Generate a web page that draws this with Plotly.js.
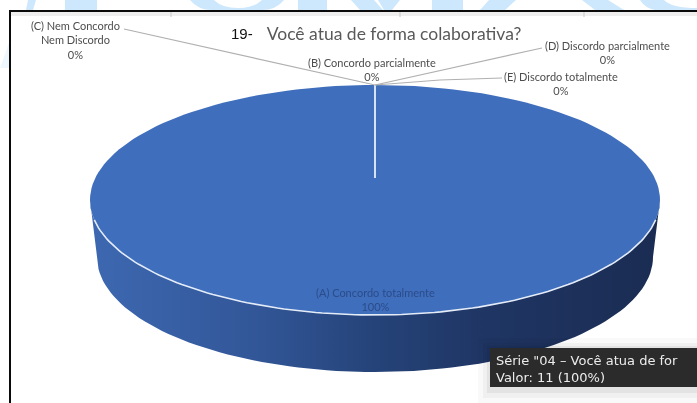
<!DOCTYPE html>
<html><head><meta charset="utf-8">
<script src="https://cdn.plot.ly/plotly-3.0.1.min.js"></script>
<style>html,body{margin:0;padding:0;background:#fff;overflow:hidden}#chart{width:697px;height:403px;filter:blur(0.55px)}</style>
</head><body><div id="chart"></div>
<script>
const categories = ["(A) Concordo totalmente","(B) Concordo parcialmente","(C) Nem Concordo<br>Nem Discordo","(D) Discordo parcialmente","(E) Discordo totalmente"];
const values = [11,0,0,0,0];
const chartTitle = "Você atua de forma colaborativa?";
const questionNumber = "19-";
const tooltipLines = ['Série "04 – Você atua de for','Valor: 11 (100%)'];

// Pie geometry, in picture pixels
const TOP = {cx:375, cy:200, rx:285, ry:115};
const BASE = {cx:375, cy:257, rx:278, ry:115};
const HUB = {x:375, y:178};
const labelPos = [[375,299],[372,69.5],[75,39.5],[607,52],[561,83]];
const leaders = [null,null,[[124,29],[375,85]],[[542,48],[375,85]],[[502,78],[440,80],[375,85]]];

const total = values.reduce((a,b)=>a+b,0);
function arc(e,a0,a1,n){const xs=[],ys=[];for(let i=0;i<=n;i++){const a=(a0+(a1-a0)*i/n)*Math.PI/180;xs.push(e.cx+e.rx*Math.sin(a));ys.push(e.cy-e.ry*Math.cos(a));}return [xs,ys];}

const traces=[];
// Side wall (front half)
const t=arc(TOP,90,270,90), b=arc(BASE,270,90,90);
traces.push({type:'scatter',mode:'lines',x:t[0].concat(b[0]),y:t[1].concat(b[1]),fill:'toself',line:{width:0},hoverinfo:'skip',
  fillcolor:'#2a4a84',
  fillgradient:{type:'horizontal',start:90,stop:660,colorscale:[[0,'#3d68b1'],[0.27,'#33589a'],[0.5,'#254379'],[0.7,'#1f3563'],[1,'#1a2c52']]}});
// Top face: one filled sector per value
let acc=0;
values.forEach((v,i)=>{
  if(v<=0) return;
  const a0=acc/total*360, a1=(acc+v)/total*360; acc+=v;
  const o=arc(TOP,a0,a1,180);
  traces.push({type:'scatter',mode:'lines',x:o[0],y:o[1],fill:'toself',fillcolor:'#3f6ebc',line:{width:0},hoverinfo:'skip'});
});
// Bright front rim
const rim=arc(TOP,100,260,120);
traces.push({type:'scatter',mode:'lines',x:rim[0],y:rim[1],line:{color:'#e4ecf8',width:1.6},hoverinfo:'skip'});
// Slice boundary
traces.push({type:'scatter',mode:'lines',x:[HUB.x,TOP.cx],y:[HUB.y,TOP.cy-TOP.ry],line:{color:'#d5e2f4',width:2},hoverinfo:'skip'});
// Leader lines
leaders.forEach(l=>{ if(!l) return;
  traces.push({type:'scatter',mode:'lines',x:l.map(p=>p[0]),y:l.map(p=>p[1]),line:{color:'#b0b0b0',width:1.2},hoverinfo:'skip'});
});

const LABEL='Lato, "Noto Sans", sans-serif';
const annotations=categories.map((c,i)=>({
  xref:'x',yref:'y',x:labelPos[i][0],y:labelPos[i][1],xanchor:'center',yanchor:'middle',showarrow:false,align:'center',
  text:c+'<br>'+Math.round(values[i]/total*100)+'%',
  font:{family:LABEL,size:11,color:i===0?'#2b4c8a':'#4d4d4d'}
}));
annotations.push({xref:'x',yref:'y',x:229,y:33,xanchor:'left',yanchor:'middle',showarrow:false,text:questionNumber,font:{family:'"Liberation Sans",Arial,sans-serif',size:15,color:'#111111'}});
annotations.push({xref:'x',yref:'y',x:494,y:369,xanchor:'left',yanchor:'middle',showarrow:false,align:'left',text:tooltipLines.join('<br>'),font:{family:'"DejaVu Sans",sans-serif',size:13,color:'#ececec'}});

const poly=(pts,fill,op)=>({type:'path',xref:'x',yref:'y',layer:'below',line:{width:0},fillcolor:fill,opacity:op||1,path:'M'+pts.map(p=>p.join(',')).join('L')+'Z'});
const rect=(x0,y0,x1,y1,fill,op,layer)=>({type:'rect',xref:'x',yref:'y',x0,y0,x1,y1,line:{width:0},fillcolor:fill,opacity:op===undefined?1:op,layer:layer||'below'});
const WM='#cde8fc';
const shapes=[
  // watermark remains above the frame
  poly([[28,0],[36,0],[33,10],[26,10]],WM),
  rect(65,0,97,10,WM),
  {type:'path',xref:'x',yref:'y',layer:'below',line:{width:0},fillcolor:WM,path:'M190,0 L214,0 Q222,8 238,8 Q254,8 262,0 L284,0 Q276,10 262,10 L212,10 Q198,10 190,0Z'},
  rect(298,0,327,10,WM),
  poly([[351,0],[374,0],[383,10],[360,10]],WM),
  poly([[378,0],[400,0],[392,10],[384,10]],WM),
  rect(432,0,463,10,WM),
  poly([[489,0],[516,0],[505,10],[480,10]],WM),
  poly([[582,0],[608,0],[624,10],[595,10]],WM),
  {type:'path',xref:'x',yref:'y',layer:'below',line:{width:0},fillcolor:WM,path:'M640,0 L664,0 Q672,8 697,8 L697,10 L655,10 Q645,8 640,0Z'},
  poly([[0,68],[10,40],[10,68]],'#eef7fe'),
  // frame
  rect(11,12,697,16,'#eeeeee'),
  rect(170.5,12,171.5,17,'#c8c8c8'),
  rect(399.5,12,400.5,17,'#c8c8c8'),
  rect(583.5,12,584.5,17,'#c8c8c8'),
  rect(9,10,697,12,'#0a0a0a'),
  rect(9,10,11,403,'#0a0a0a'),
  // tooltip shadow and box
  rect(478,338,697,403,'#000000',0.025,'above'),
  rect(483,343,697,398,'#000000',0.035,'above'),
  rect(487,346,697,393,'#000000',0.05,'above'),
  rect(490,348,697,387,'#2b2b2b',1,'above')
];

Plotly.newPlot('chart',traces,{
  width:697,height:403,showlegend:false,
  margin:{l:0,r:0,t:0,b:0},
  paper_bgcolor:'#ffffff',plot_bgcolor:'#ffffff',
  xaxis:{range:[0,697],visible:false,fixedrange:true},
  yaxis:{range:[403,0],visible:false,fixedrange:true},
  title:{text:chartTitle,x:394/697,xanchor:'center',y:1-34/403,yanchor:'middle',font:{family:LABEL,size:17.5,color:'#595959'}},
  shapes,annotations
},{displayModeBar:false,staticPlot:true});
</script></body></html>
